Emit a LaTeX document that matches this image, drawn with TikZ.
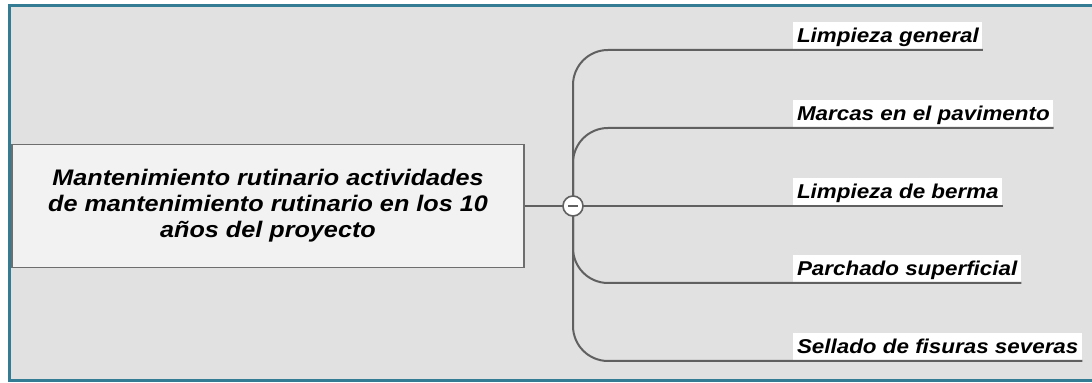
\documentclass[tikz,border=0pt]{standalone}
\usepackage{fontspec}
\newfontfamily\mapfont[FakeStretch=1.12]{Liberation Sans}

\definecolor{framecol}{RGB}{52,124,148}
\definecolor{bggray}{RGB}{225,225,225}
\definecolor{hubfill}{RGB}{242,242,242}
\definecolor{hubline}{RGB}{110,110,110}
\definecolor{linegray}{RGB}{96,96,96}

\begin{document}
\begin{tikzpicture}[
    x=0.5pt,
    y=-0.5pt,
    hub/.style={draw=hubline, fill=hubfill, line width=0.8pt, align=center,
        minimum width=256pt, minimum height=61.5pt, inner sep=0pt,
        font=\mapfont\bfseries\itshape\fontsize{11.25}{13}\selectfont},
    leaf/.style={anchor=south west, fill=white, inner xsep=1.8pt, inner ysep=0.75pt,
        text height=9.5pt, text depth=3pt,
        font=\mapfont\bfseries\itshape\fontsize{10}{12}\selectfont},
    branch/.style={draw=linegray, line width=1pt, rounded corners=17.5pt},
]

% Page and frame
\clip (0,0) rectangle (1092,383);
\fill[white] (0,0) rectangle (1092,383);
\draw[framecol, line width=1.5pt, fill=bggray] (9.5,5.5) rectangle (1100,380.5);

% Central topic
\node[hub] (main) at (268,206) {Mantenimiento rutinario actividades\\
    de mantenimiento rutinario en los 10\\años del proyecto};

% Fork point
\coordinate (fork) at (573,206);

% Subtopics
\foreach \name/\y/\txt in {l1/50/Limpieza general,
                           l2/128/Marcas en el pavimento,
                           l3/206/Limpieza de berma,
                           l4/283/Parchado superficial,
                           l5/361/Sellado de fisuras severas}
    \node[leaf] (\name) at (793,\y) {\txt};

% Branches
\foreach \name in {l1,l2,l4,l5}
    \draw[branch] (fork) |- (\name.south east);
\draw[branch] (fork) -- (l3.south east);
\draw[branch] (main.east) -- (fork);

% Collapse toggle
\node[circle, draw=linegray, fill=white, text=linegray, line width=0.8pt,
      minimum size=10pt, inner sep=0pt] (toggle) at (fork) {\rule{5pt}{1pt}};

\end{tikzpicture}
\end{document}
